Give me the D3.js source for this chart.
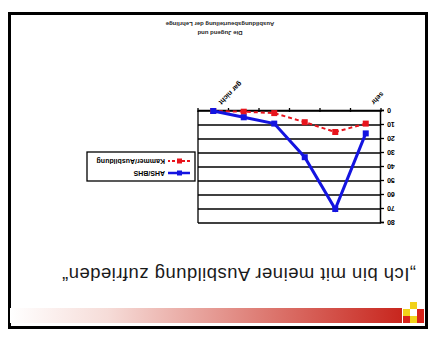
<!DOCTYPE html>
<html>
<head>
<meta charset="utf-8">
<script src="https://cdn.jsdelivr.net/npm/d3@7"></script>
<style>
  html, body { margin: 0; padding: 0; background: #fff; }
  svg { display: block; font-family: "Liberation Sans", Arial, sans-serif; }
</style>
</head>
<body>
<svg id="slide" width="430" height="338"></svg>
<script>
// Answer categories on the x axis (only the two ends carry a label)
const categories = ["1", "2", "3", "4", "5", "6"];
const xTickLabels = ["sehr", "", "", "", "", "gar nicht"];

// Series values
const seriesNames = ["AHS/BHS", "Kammer/Ausbildung"];
const valuesBlue = [16, 70, 33, 9, 4.5, 0];
const valuesRed = [9, 15, 8, 1.5, 0.5, 0];

// Value axis
const yTicks = [0, 10, 20, 30, 40, 50, 60, 70, 80];

const titleText = "\u201EIch bin mit meiner Ausbildung zufrieden\u201C";
const sourceLines = ["Die Jugend und", "Ausbildungsbeurteilung der Lehrlinge"];

const W = 430, H = 338;
const svg = d3.select("#slide");

// The slide is shown turned upside down.
const g = svg.append("g").attr("transform", `rotate(180 ${W / 2} ${H / 2})`);

// Slide frame
g.append("rect")
  .attr("x", 3.5).attr("y", 10.5)
  .attr("width", 417).attr("height", 314)
  .attr("fill", "#fff").attr("stroke", "#000").attr("stroke-width", 3);

// Header gradient band
const defs = svg.append("defs");
const grad = defs.append("linearGradient").attr("id", "band")
  .attr("x1", "0%").attr("x2", "100%").attr("y1", "0%").attr("y2", "0%");
grad.append("stop").attr("offset", "0%").attr("stop-color", "#c8261e");
grad.append("stop").attr("offset", "35%").attr("stop-color", "#dd7a72");
grad.append("stop").attr("offset", "75%").attr("stop-color", "#f6dcd8");
grad.append("stop").attr("offset", "100%").attr("stop-color", "#ffffff");
g.append("rect")
  .attr("x", 28).attr("y", 15)
  .attr("width", 392).attr("height", 15)
  .attr("fill", "url(#band)");

// Small logo made of squares
const logo = [
  { x: 6, y: 15, c: "#d8231b" }, { x: 13, y: 15, c: "#f2d21a" }, { x: 20, y: 15, c: "#d8231b" },
  { x: 6, y: 22, c: "#d8231b" }, { x: 20, y: 22, c: "#f2d21a" },
  { x: 13, y: 29, c: "#f2d21a" }
];
g.selectAll("rect.logo").data(logo).enter().append("rect")
  .attr("class", "logo")
  .attr("x", d => d.x).attr("y", d => d.y)
  .attr("width", 7).attr("height", 7)
  .attr("fill", d => d.c);

// Title
g.append("text")
  .attr("x", 14).attr("y", 70)
  .attr("font-size", 18.5)
  .attr("textLength", 354)
  .attr("lengthAdjust", "spacing")
  .attr("fill", "#1a1a1a")
  .text(titleText);

// Plot area
const plot = { left: 49, right: 232, top: 115, bottom: 227 };

const x = d3.scaleBand().domain(categories).range([plot.left, plot.right]).padding(0);
const xc = c => x(c) + x.bandwidth() / 2;
const y = d3.scaleLinear().domain([0, 80]).range([plot.bottom, plot.top]);

// Horizontal gridlines
g.append("g").selectAll("line").data(yTicks).enter().append("line")
  .attr("x1", plot.left).attr("x2", plot.right)
  .attr("y1", d => y(d)).attr("y2", d => y(d))
  .attr("stroke", "#000").attr("stroke-width", 1.3);

// Right border of plot area
g.append("line")
  .attr("x1", plot.right).attr("x2", plot.right)
  .attr("y1", plot.top).attr("y2", plot.bottom)
  .attr("stroke", "#000").attr("stroke-width", 1.3);

// Y axis
const yAxis = d3.axisLeft(y).tickValues(yTicks).tickSize(3).tickPadding(3);
const yG = g.append("g").attr("transform", `translate(${plot.left},0)`).call(yAxis);
yG.select(".domain").attr("stroke", "#000").attr("stroke-width", 1.5);
yG.selectAll(".tick line").attr("stroke", "#000").attr("stroke-width", 1.3);
yG.selectAll(".tick text")
  .attr("font-size", 7).attr("font-weight", "bold").attr("fill", "#000")
  .attr("font-family", "Liberation Sans, Arial, sans-serif");

// X axis: ticks between categories
const xAxis = d3.axisBottom(x).tickSize(0).tickFormat(() => "");
const xG = g.append("g").attr("transform", `translate(0,${plot.bottom})`).call(xAxis);
xG.select(".domain").attr("stroke", "#000").attr("stroke-width", 1.5);
const bounds = categories.map(c => x(c)).concat([plot.right]);
xG.selectAll("line.sep").data(bounds).enter().append("line")
  .attr("class", "sep")
  .attr("x1", d => d).attr("x2", d => d)
  .attr("y1", -1).attr("y2", 3)
  .attr("stroke", "#000").attr("stroke-width", 1.3);

// Slanted category labels
g.append("g").selectAll("text").data(categories).enter().append("text")
  .attr("transform", (c, i) => `translate(${xc(c) - 5},${plot.bottom + 9}) rotate(-45)`)
  .attr("text-anchor", "end")
  .attr("font-size", 7).attr("font-weight", "bold").attr("fill", "#000")
  .text((c, i) => xTickLabels[i]);

// Series lines
const line = vals => d3.line()
  .x((d, i) => xc(categories[i]))
  .y(d => y(d))(vals);

g.append("path")
  .attr("d", line(valuesRed))
  .attr("fill", "none").attr("stroke", "#e8141c")
  .attr("stroke-width", 2).attr("stroke-dasharray", "4,3");
g.append("g").selectAll("rect").data(valuesRed).enter().append("rect")
  .attr("x", (d, i) => xc(categories[i]) - 3)
  .attr("y", d => y(d) - 3)
  .attr("width", 6).attr("height", 6)
  .attr("fill", "#e8141c");

g.append("path")
  .attr("d", line(valuesBlue))
  .attr("fill", "none").attr("stroke", "#1414e0")
  .attr("stroke-width", 3);
g.append("g").selectAll("rect").data(valuesBlue).enter().append("rect")
  .attr("x", (d, i) => xc(categories[i]) - 3)
  .attr("y", d => y(d) - 3)
  .attr("width", 6).attr("height", 6)
  .attr("fill", "#1414e0");

// Legend
const lg = g.append("g").attr("transform", "translate(235,157)");
lg.append("rect")
  .attr("width", 108).attr("height", 29)
  .attr("fill", "#fff").attr("stroke", "#000").attr("stroke-width", 1.3);
const legendItems = [
  { name: seriesNames[0], color: "#1414e0", dash: null, w: 2.5 },
  { name: seriesNames[1], color: "#e8141c", dash: "3,2", w: 2 }
];
legendItems.forEach((it, i) => {
  const yy = 8 + i * 12;
  lg.append("line")
    .attr("x1", 5).attr("x2", 27).attr("y1", yy).attr("y2", yy)
    .attr("stroke", it.color).attr("stroke-width", it.w)
    .attr("stroke-dasharray", it.dash);
  lg.append("rect")
    .attr("x", 13).attr("y", yy - 2.5).attr("width", 5).attr("height", 5)
    .attr("fill", it.color);
  lg.append("text")
    .attr("x", 30).attr("y", yy + 2.5)
    .attr("font-size", 7).attr("font-weight", "bold").attr("fill", "#000")
    .text(it.name);
});

// Source lines
sourceLines.forEach((s, i) => {
  g.append("text")
    .attr("x", 210).attr("y", 307 + i * 9)
    .attr("text-anchor", "middle")
    .attr("font-size", 6).attr("font-weight", "bold").attr("fill", "#222")
    .text(s);
});
</script>
</body>
</html>
